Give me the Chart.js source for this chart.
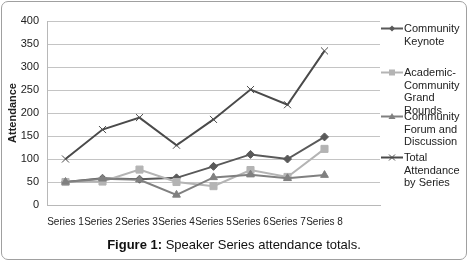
<!DOCTYPE html>
<html>
<head>
<meta charset="utf-8">
<script src="https://cdn.jsdelivr.net/npm/chart.js@4.4.1/dist/chart.umd.min.js"></script>
<style>
  html, body { margin: 0; padding: 0; background: #fff; }
  #wrap {
    position: relative; width: 468px; height: 261px; overflow: hidden;
    font-family: "Liberation Sans", Arial, sans-serif; color: #222;
  }
  #frame {
    position: absolute; left: 1px; top: 1px; width: 464px; height: 257px;
    border: 1px solid #a0a0a0; border-radius: 7px; pointer-events: none;
  }
  #chart { position: absolute; left: 0; top: 0; }
  .leg { position: absolute; left: 381px; font-size: 11px; line-height: 12.7px; }
  .leg svg { position: absolute; left: 0; }
  .leg span { position: absolute; left: 23px; top: 0; white-space: nowrap; }
  #caption {
    position: absolute; left: 0; width: 468px; top: 237px; text-align: center;
    font-size: 13px; color: #111;
  }
</style>
</head>
<body>
<div id="wrap">
  <canvas id="chart" width="468" height="261"></canvas>
  <div id="legend"></div>
  <div id="caption"><b>Figure 1:</b> Speaker Series attendance totals.</div>
  <div id="frame"></div>
</div>
<script>
const categories = ['Series 1', 'Series 2', 'Series 3', 'Series 4', 'Series 5', 'Series 6', 'Series 7', 'Series 8'];
const seriesNames = [
  ['Community', 'Keynote'],
  ['Academic-', 'Community', 'Grand', 'Rounds'],
  ['Community', 'Forum and', 'Discussion'],
  ['Total', 'Attendance', 'by Series']
];
const keynote = [50, 58, 56, 59, 84, 110, 100, 148];
const grandRounds = [50, 51, 77, 50, 41, 76, 61, 122];
const forum = [50, 57, 55, 22, 60, 66, 58, 65];
const total = [100, 164, 190, 130, 186, 251, 218, 335];
const yTicks = [0, 50, 100, 150, 200, 250, 300, 350, 400];

const colors = ['#595959', '#b4b4b4', '#808080', '#4a4a4a'];
const markers = ['rectRot', 'rect', 'triangle', 'crossRot'];
const radii = [4, 5, 4.5, 5];
const legendTops = [22, 66, 110, 151];

const allValues = [keynote, grandRounds, forum, total];

const datasets = allValues.map(function(vals, i) {
  return {
    label: seriesNames[i].join(' '),
    data: vals.map(function(v, j) { return { x: j + 1, y: v }; }),
    borderColor: colors[i],
    backgroundColor: colors[i],
    borderWidth: 2,
    pointStyle: markers[i],
    pointRadius: radii[i],
    pointBorderWidth: 1,
    pointBorderColor: colors[i],
    pointBackgroundColor: colors[i],
    tension: 0,
    order: 4 - i
  };
});

new Chart(document.getElementById('chart'), {
  type: 'line',
  data: { datasets: datasets },
  options: {
    responsive: false,
    animation: false,
    events: [],
    layout: { padding: { left: 0, right: 88, top: 21, bottom: 0 } },
    plugins: { legend: { display: false }, tooltip: { enabled: false } },
    scales: {
      x: {
        type: 'linear',
        min: 0.5,
        max: 9.5,
        afterFit: function(scale) { scale.height = 56; },
        afterBuildTicks: function(scale) {
          scale.ticks = categories.map(function(c, i) { return { value: i + 1 }; });
        },
        ticks: {
          autoSkip: false,
          maxRotation: 0,
          padding: 3,
          color: '#222',
          font: { family: 'Liberation Sans', size: 10 },
          callback: function(v) { return categories[v - 1] || ''; }
        },
        grid: { display: false },
        border: { display: true, color: '#b8b8b8', width: 1 }
      },
      y: {
        min: 0,
        max: 400,
        afterFit: function(scale) { scale.width = 47; },
        afterBuildTicks: function(scale) {
          scale.ticks = yTicks.map(function(v) { return { value: v }; });
        },
        ticks: {
          padding: 8,
          color: '#222',
          font: { family: 'Liberation Sans', size: 11 }
        },
        grid: { color: '#c4c4c4', lineWidth: 1, drawTicks: false },
        border: { display: true, color: '#b8b8b8', width: 1 },
        title: {
          display: true,
          text: 'Attendance',
          color: '#222',
          padding: { top: 6, bottom: 0 },
          font: { family: 'Liberation Sans', size: 11, weight: 'bold' }
        }
      }
    }
  }
});

// legend on the right, one block per series
const legend = document.getElementById('legend');
seriesNames.forEach(function(lines, i) {
  const div = document.createElement('div');
  div.className = 'leg';
  div.style.top = legendTops[i] + 'px';
  let mark = '';
  if (markers[i] === 'rectRot') mark = '<polygon points="11,3.5 14,6.5 11,9.5 8,6.5" fill="' + colors[i] + '"/>';
  if (markers[i] === 'rect') mark = '<rect x="8" y="3.5" width="6" height="6" fill="' + colors[i] + '"/>';
  if (markers[i] === 'triangle') mark = '<polygon points="11,3 14.5,9 7.5,9" fill="' + colors[i] + '"/>';
  if (markers[i] === 'crossRot') mark = '<path d="M8,3.5 L14,9.5 M14,3.5 L8,9.5" stroke="' + colors[i] + '" stroke-width="1"/>';
  div.innerHTML = '<svg width="22" height="13" style="top:0px"><line x1="0" y1="6.5" x2="22" y2="6.5" stroke="' + colors[i] + '" stroke-width="2"/>' + mark + '</svg>' +
    '<span>' + lines.join('<br>') + '</span>';
  legend.appendChild(div);
});
</script>
</body>
</html>
